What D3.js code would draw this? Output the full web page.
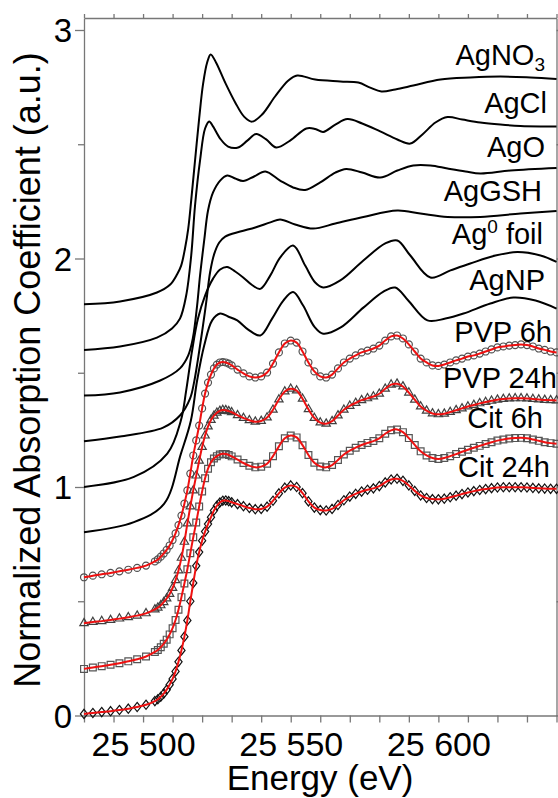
<!DOCTYPE html>
<html><head><meta charset="utf-8">
<script src="https://cdn.jsdelivr.net/npm/d3@7"></script>
<style>
html,body{margin:0;padding:0;background:#fff;}
svg{display:block;font-family:"Liberation Sans",Arial,Helvetica,sans-serif;}
</style></head><body>
<svg id="chart" width="558" height="798"></svg>
<script>
// ---------------- DATA ----------------
const xTicks = [25480,25490,25500,25510,25520,25530,25540,25550,25560,25570,25580,25590,25600,25610,25620,25630,25640];
const xTickLabelValues = [25500,25550,25600];
const xTickLabels = ["25 500","25 550","25 600"];
const yTicks = [0,0.5,1,1.5,2,2.5,3];
const yTickLabelValues = [0,1,2,3];

const sampleNames = ["AgNO3","AgCl","AgO","AgGSH","Ag0 foil","AgNP","PVP 6h","PVP 24h","Cit 6h","Cit 24h"];
const offsets = [1.8,1.6,1.4,1.2,1.0,0.8,0.6,0.4,0.2,0.0];

// reference spectra: [energy (eV), normalized mu]
const agNO3 = [[25480,0.000],[25492.2,0.012],[25504.7,0.051],[25509.2,0.086],[25511.5,0.130],[25512.9,0.169],[25514.2,0.244],[25515.3,0.331],[25516.3,0.454],[25517.6,0.629],[25519.0,0.813],[25520.3,0.962],[25521.7,1.058],[25522.9,1.093],[25524.7,1.058],[25527.8,0.970],[25531.2,0.883],[25534.2,0.821],[25536.9,0.799],[25540.3,0.830],[25544.7,0.909],[25549.2,0.979],[25552.2,1.001],[25558.3,0.983],[25566.8,0.975],[25572.9,0.970],[25576.9,0.948],[25580.7,0.931],[25585.4,0.940],[25591.5,0.957],[25600.7,0.983],[25610.8,0.992],[25621.0,0.996],[25631.2,0.992],[25640,0.986]];
const agCl = [[25480,0.000],[25492.2,0.015],[25504.7,0.054],[25509.8,0.094],[25512.5,0.137],[25514.6,0.238],[25516.3,0.413],[25517.6,0.632],[25519.3,0.829],[25521.0,0.969],[25522.4,1.000],[25523.7,0.978],[25526.1,0.925],[25528.8,0.890],[25532.2,0.886],[25535.3,0.916],[25538.3,0.945],[25541.7,0.921],[25545.1,0.886],[25549.8,0.916],[25555.3,0.969],[25558.3,0.967],[25561.0,0.954],[25565.1,0.986],[25569.2,1.010],[25574.2,0.991],[25580.3,0.956],[25586.1,0.921],[25590.5,0.903],[25594.6,0.943],[25599.0,0.995],[25603.1,1.019],[25608.1,1.008],[25614.2,0.995],[25621.0,0.986],[25627.8,0.980],[25634.6,0.978],[25640,0.978]];
const agO = [[25480,0.000],[25492.2,0.014],[25505.8,0.066],[25512.5,0.119],[25515.3,0.176],[25516.9,0.254],[25518.3,0.394],[25519.3,0.526],[25520.7,0.679],[25522.0,0.810],[25523.7,0.889],[25526.1,0.941],[25528.5,0.963],[25531.2,0.950],[25533.9,0.939],[25537.6,0.959],[25541.4,0.981],[25546.4,0.941],[25550.8,0.911],[25554.9,0.900],[25560.0,0.933],[25565.1,0.976],[25568.8,0.992],[25574.2,0.976],[25580.3,0.954],[25586.1,0.985],[25591.5,1.007],[25597.3,1.007],[25603.1,0.994],[25609.2,0.981],[25614.2,0.972],[25624.4,0.985],[25640,0.996]];
const agGSH = [[25480,0.000],[25492.2,0.021],[25506.8,0.060],[25512.5,0.113],[25515.9,0.187],[25517.3,0.260],[25518.6,0.360],[25520.0,0.480],[25521.4,0.610],[25522.7,0.740],[25524.1,0.820],[25525.8,0.870],[25527.8,0.896],[25532.9,0.918],[25538.0,0.936],[25543.1,0.958],[25546.4,0.971],[25551.5,0.949],[25557.6,0.931],[25565.1,0.953],[25574.6,0.982],[25586.1,1.010],[25593.9,0.997],[25603.1,0.982],[25614.2,0.982],[25627.8,0.997],[25640,1.008]];
const agFoil = [[25480,0.000],[25496.9,0.044],[25508.2,0.146],[25512.8,0.291],[25514.6,0.422],[25516.6,0.597],[25518.6,0.737],[25521.0,0.838],[25523.7,0.912],[25526.1,0.952],[25528.5,0.963],[25531.2,0.943],[25533.9,0.917],[25536.9,0.884],[25539.7,0.867],[25543.1,0.926],[25546.4,1.004],[25550.8,1.057],[25554.9,0.969],[25558.3,0.895],[25561.0,0.873],[25566.8,0.904],[25574.6,0.991],[25582.0,1.066],[25586.1,1.079],[25590.5,1.013],[25597.3,0.917],[25604.1,0.948],[25610.8,0.978],[25619.3,1.013],[25626.8,1.028],[25634.6,1.013],[25640,0.985]];
const agNP = [[25480,0.002],[25496.9,0.046],[25507.1,0.126],[25512.8,0.345],[25516.2,0.491],[25518.3,0.666],[25520.7,0.819],[25523.4,0.929],[25526.1,0.959],[25528.8,0.946],[25531.9,0.929],[25535.6,0.889],[25539.7,0.863],[25543.7,0.937],[25547.5,1.016],[25550.8,1.053],[25554.2,0.994],[25558.0,0.902],[25561.0,0.871],[25566.8,0.897],[25574.6,0.985],[25581.4,1.055],[25585.4,1.073],[25589.8,1.016],[25596.3,0.929],[25602.4,0.937],[25608.5,0.959],[25617.6,1.003],[25625.4,1.029],[25632.9,1.016],[25640,0.981]];

// measured samples (markers + red fit) share one energy grid
const energyGrid = [25480,25483,25486,25489,25492,25495,25498,25501,25504,25505,25506,25507,25508,25509,25510,25511,25512,25513,25514,25515,25516,25517,25518,25519,25520,25521,25522,25523,25524,25525,25526,25527,25528,25529,25530,25532,25534,25536,25538,25540,25542,25544,25546,25548,25550,25552,25554,25556,25558,25560,25562,25564,25566,25568,25570,25572,25574,25576,25578,25580,25582,25584,25586,25588,25590,25592,25594,25596,25598,25600,25602,25604,25606,25608,25610,25612,25614,25616,25618,25620,25622,25624,25626,25628,25630,25632,25634,25636,25638,25640];
const pvp6h = [0.005,0.012,0.018,0.024,0.031,0.038,0.046,0.056,0.074,
 0.083,0.095,0.109,0.125,0.144,0.168,0.197,0.233,0.275,0.327,0.385,0.459,0.538,0.604,0.669,0.744,0.809,0.857,0.892,0.919,0.936,0.945,0.947,0.945,0.940,0.932,
 0.914,0.897,0.884,0.879,0.884,0.901,0.940,0.989,1.028,1.041,1.032,0.993,0.945,0.906,0.884,0.879,0.892,0.919,0.945,0.962,0.976,0.989,0.997,1.006,1.019,1.041,1.059,1.063,1.050,1.024,0.993,0.962,0.945,0.932,0.930,0.936,0.945,0.954,0.962,0.971,0.976,0.984,0.993,1.002,1.011,1.015,1.019,1.021,1.024,1.021,1.015,1.006,1.000,0.993,0.989];
const pvp24h = [0.004,0.009,0.013,0.018,0.024,0.030,0.037,0.047,0.064,
 0.072,0.082,0.096,0.112,0.132,0.158,0.192,0.235,0.290,0.360,0.440,0.515,0.585,0.650,0.715,0.775,0.825,0.865,0.893,0.912,0.925,0.933,0.937,0.936,0.932,0.927,
 0.914,0.902,0.892,0.886,0.889,0.904,0.938,0.983,1.018,1.030,1.022,0.986,0.940,0.902,0.882,0.877,0.888,0.913,0.938,0.955,0.968,0.980,0.988,0.996,1.008,1.030,1.048,1.052,1.040,1.013,0.982,0.952,0.934,0.922,0.918,0.921,0.928,0.936,0.944,0.952,0.959,0.966,0.972,0.977,0.982,0.985,0.987,0.988,0.988,0.987,0.985,0.983,0.981,0.980,0.979];
const cit6h = [0.004,0.010,0.016,0.022,0.029,0.037,0.046,0.058,0.078,
 0.087,0.099,0.114,0.132,0.155,0.182,0.218,0.263,0.318,0.378,0.440,0.510,0.580,0.645,0.715,0.780,0.838,0.880,0.908,0.925,0.935,0.942,0.945,0.944,0.940,0.934,
 0.920,0.905,0.893,0.886,0.889,0.902,0.935,0.978,1.013,1.025,1.017,0.983,0.940,0.906,0.890,0.886,0.896,0.918,0.942,0.959,0.972,0.984,0.993,1.001,1.013,1.033,1.048,1.052,1.040,1.014,0.984,0.956,0.938,0.927,0.923,0.927,0.935,0.944,0.954,0.963,0.972,0.980,0.988,0.996,1.003,1.008,1.012,1.014,1.015,1.013,1.008,1.002,0.996,0.992,0.989];
const cit24h = [0.007,0.011,0.015,0.019,0.024,0.030,0.037,0.047,0.063,
 0.071,0.082,0.096,0.113,0.135,0.160,0.193,0.235,0.285,0.345,0.416,0.500,0.580,0.655,0.715,0.765,0.805,0.838,0.868,0.897,0.918,0.932,0.940,0.941,0.938,0.933,
 0.925,0.916,0.908,0.903,0.904,0.914,0.940,0.972,0.997,1.007,1.000,0.973,0.937,0.910,0.899,0.897,0.904,0.921,0.942,0.958,0.970,0.980,0.988,0.994,1.004,1.020,1.033,1.036,1.027,1.007,0.983,0.963,0.952,0.947,0.946,0.949,0.955,0.962,0.969,0.976,0.982,0.987,0.991,0.995,0.998,0.999,0.999,0.999,0.999,0.998,0.996,0.994,0.993,0.992,0.992];

// ---------------- LAYOUT ----------------
const plot = {left:84, right:556.5, top:18, bottom:715.5};
const labelPos = [[545,65],[547,113],[545,157],[542,201],[543,244],[545,290],[552,342],[557,388],[543,428],[550,477]];

const svg = d3.select("#chart");
const x = d3.scaleLinear().domain([25480,25640]).range([plot.left, plot.right]);
const y = d3.scaleLinear().domain([0,3.0525]).range([plot.bottom, plot.top]);
const axisColor = "#777";

function styleAxis(g){
  g.select(".domain").attr("stroke",axisColor).attr("stroke-width",1.3);
  g.selectAll(".tick line").attr("stroke",axisColor).attr("stroke-width",1.3);
}
const xLabel = v => { const i = xTickLabelValues.indexOf(v); return i>=0 ? xTickLabels[i] : ""; };

const gB = svg.append("g").attr("transform",`translate(0,${plot.bottom})`)
  .call(d3.axisBottom(x).tickValues(xTicks).tickSize(7).tickSizeOuter(0).tickFormat(xLabel));
styleAxis(gB);
gB.selectAll(".tick text").attr("font-size",34).attr("fill","#000").attr("dy",null).attr("y",40.5)
  .attr("font-family",'"Liberation Sans",Arial,sans-serif');

const gT = svg.append("g").attr("transform",`translate(0,${plot.top})`)
  .call(d3.axisTop(x).tickValues(xTicks).tickSize(4).tickSizeOuter(0).tickFormat(""));
styleAxis(gT);

const gL = svg.append("g").attr("transform",`translate(${plot.left},0)`)
  .call(d3.axisLeft(y).tickValues(yTicks).tickSize(9).tickSizeOuter(0)
    .tickFormat(v => yTickLabelValues.includes(v) ? String(v) : ""));
styleAxis(gL);
gL.selectAll(".tick line").attr("x2", d => yTickLabelValues.includes(d) ? -9 : -6);
gL.selectAll(".tick text").attr("font-size",33).attr("fill","#000").attr("x",-12).attr("dy","0.36em")
  .attr("font-family",'"Liberation Sans",Arial,sans-serif');

const gR = svg.append("g").attr("transform",`translate(${plot.right},0)`)
  .call(d3.axisRight(y).tickValues(yTicks).tickSize(6).tickSizeOuter(0).tickFormat(""));
styleAxis(gR);

// reference curves (black)
const refSpectra = [agNO3, agCl, agO, agGSH, agFoil, agNP];
const lineGen = d3.line().curve(d3.curveCatmullRom.alpha(0.5));
refSpectra.forEach((spec,i) => {
  svg.append("path")
    .attr("d", lineGen(spec.map(p => [x(p[0]), y(p[1] + offsets[i])])))
    .attr("fill","none").attr("stroke","#000").attr("stroke-width",2).attr("stroke-linejoin","round");
});

// measured samples: markers + red fit
const diamond = {draw(ctx, size){ const h=4.6, w=3.6; ctx.moveTo(0,-h); ctx.lineTo(w,0); ctx.lineTo(0,h); ctx.lineTo(-w,0); ctx.closePath(); }};
const sampleSeries = [
  {vals:pvp6h,  off:offsets[6], sym:d3.symbolCircle,   size:38, col:"#505050"},
  {vals:pvp24h, off:offsets[7], sym:d3.symbolTriangle, size:30, col:"#404040"},
  {vals:cit6h,  off:offsets[8], sym:d3.symbolSquare,   size:46, col:"#555"},
  {vals:cit24h, off:offsets[9], sym:diamond,           size:40, col:"#111"}
];
sampleSeries.forEach(s => {
  const pts = energyGrid.map((e,k) => [x(e), y(s.vals[k] + s.off)]);
  svg.append("g").selectAll("path").data(pts).join("path")
    .attr("d", d3.symbol().type(s.sym).size(s.size)())
    .attr("transform", d => `translate(${d[0]},${d[1]})`)
    .attr("fill","none").attr("stroke",s.col).attr("stroke-width",1.2);
});
sampleSeries.forEach(s => {
  const pts = energyGrid.map((e,k) => [x(e), y(s.vals[k] + s.off)]);
  svg.append("path").attr("d", lineGen(pts))
    .attr("fill","none").attr("stroke","#ee1111").attr("stroke-width",2);
});

// sample labels
sampleNames.forEach((name,i) => {
  const t = svg.append("text").attr("x",labelPos[i][0]).attr("y",labelPos[i][1])
    .attr("text-anchor","end").attr("font-size",29).attr("fill","#000");
  if (name === "AgNO3") {
    t.append("tspan").text("AgNO");
    t.append("tspan").attr("font-size",19).attr("dy",6).text("3");
  } else if (name === "Ag0 foil") {
    t.append("tspan").text("Ag");
    t.append("tspan").attr("font-size",19).attr("dy",-11).text("0");
    t.append("tspan").attr("dy",11).text(" foil");
  } else {
    t.text(name);
  }
});

// axis titles
svg.append("text").attr("transform","translate(40,370) rotate(-90)")
  .attr("text-anchor","middle").attr("font-size",36).attr("fill","#000")
  .text("Normalized Absorption Coefficient (a.u.)");
svg.append("text").attr("x",320).attr("y",790)
  .attr("text-anchor","middle").attr("font-size",35).attr("fill","#000")
  .text("Energy (eV)");
</script>
</body></html>
